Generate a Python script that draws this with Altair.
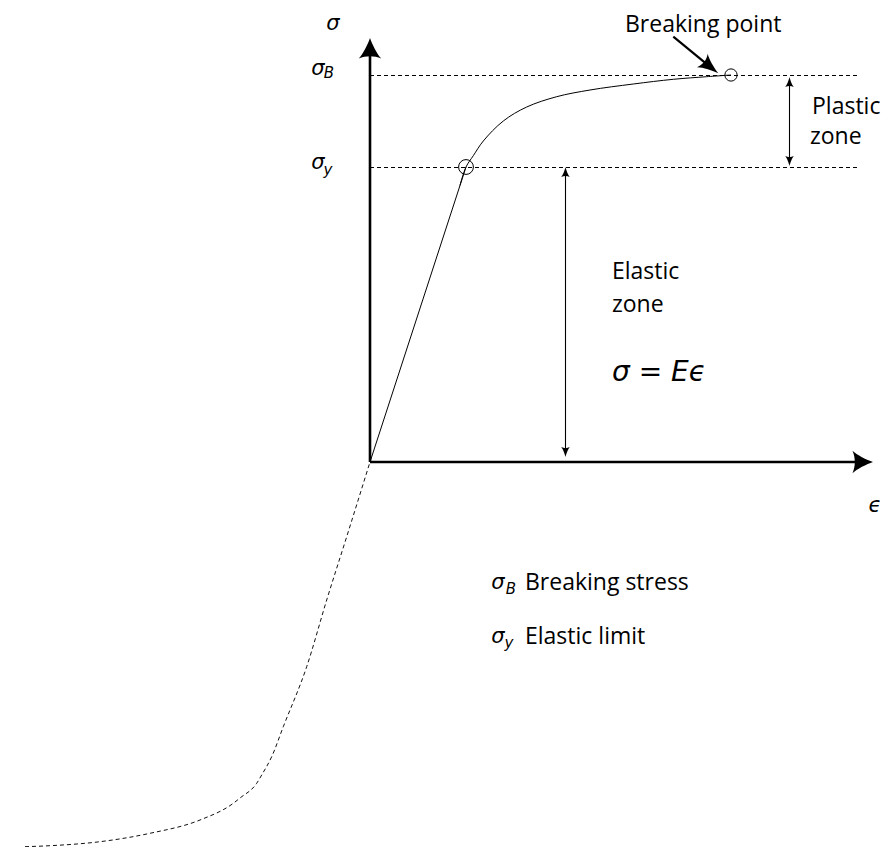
import altair as alt
import pandas as pd

# ---- data (strain eps, stress sigma, arbitrary units) ----
elastic_eps = [0.0, 0.96]
elastic_sigma = [0.0, 2.95]

plastic_eps = [0.90, 0.96, 1.033, 1.133, 1.333, 1.567, 1.867, 2.20, 2.633, 3.033, 3.367, 3.61]
plastic_sigma = [2.766, 2.95, 3.063, 3.21, 3.41, 3.55, 3.653, 3.72, 3.78, 3.827, 3.853, 3.87]

ext_eps = [0.0, -0.233, -0.433, -0.633, -0.867, -0.983, -1.083, -1.133, -1.30, -1.367, -1.70, -2.20, -2.70, -3.20, -3.45]
ext_sigma = [0.0, -0.747, -1.38, -2.047, -2.647, -2.947, -3.13, -3.213, -3.36, -3.413, -3.58, -3.713, -3.797, -3.837, -3.847]

sigma_B = 3.87
sigma_y = 2.95
eps_y = 0.96
eps_B = 3.61

guide_sigma = [sigma_B - 0.005, sigma_y - 0.005]
guide_end = [4.87, 4.90]

x_axis_end = 5.03
y_axis_end = 4.24

elastic_arrow_eps = 1.955
plastic_arrow_eps = 4.195

break_arrow_tail = (3.033, 4.253)
break_arrow_tip = (3.483, 3.887)

label_texts = ["Breaking point", "Plastic", "zone", "Elastic", "zone", "Breaking stress", "Elastic limit"]
label_eps = [2.55, 4.42, 4.40, 2.42, 2.42, 1.55, 1.55]
label_sigma = [4.375, 3.55, 3.25, 1.90, 1.57, -1.21, -1.75]

math_texts = ["σ", "σ", "σ", "ϵ", "σ", "σ"]
math_eps = [-0.37, -0.52, -0.52, 5.05, 1.28, 1.28]
math_sigma = [4.38, 3.93, 2.99, -0.44, -1.21, -1.75]

sub_texts = ["B", "y", "B", "y"]
sub_eps = [-0.41, -0.42, 1.41, 1.39]
sub_sigma = [3.89, 2.92, -1.27, -1.81]

formula_text = ["σ = Eϵ"]
formula_eps = [2.42]
formula_sigma = [0.89]

# ---- scales ----
xs = alt.Scale(domain=[-3.62, 5.12], nice=False, zero=False)
ys = alt.Scale(domain=[-3.85, 4.54], nice=False, zero=False)
X = alt.X("eps:Q", scale=xs, axis=None)
Y = alt.Y("sigma:Q", scale=ys, axis=None)

ARROW = "M0,0 C0.2,0.6 0.7,1.6 1.1,2 C0.4,1.7 -0.4,1.7 -1.1,2 C-0.7,1.6 -0.2,0.6 0,0 Z"
SMALL = "M0,0 C0.15,0.6 0.5,1.6 0.85,2 C0.3,1.7 -0.3,1.7 -0.85,2 C-0.5,1.6 -0.15,0.6 0,0 Z"

elastic = alt.Chart(pd.DataFrame({"eps": elastic_eps, "sigma": elastic_sigma})).mark_line(
    color="black", strokeWidth=1).encode(x=X, y=Y)
plastic = alt.Chart(pd.DataFrame({"eps": plastic_eps, "sigma": plastic_sigma})).mark_line(
    color="black", strokeWidth=1, interpolate="catmull-rom").encode(x=X, y=Y)
ext = alt.Chart(pd.DataFrame({"eps": ext_eps, "sigma": ext_sigma})).mark_line(
    color="#111111", strokeWidth=1, strokeDash=[4, 3], interpolate="monotone", clip=False).encode(x=X, y=Y)

guides = alt.Chart(pd.DataFrame({"eps": [0.0, 0.0], "eps2": guide_end, "sigma": guide_sigma})).mark_rule(
    color="black", strokeWidth=1, strokeDash=[4, 3]).encode(x=X, x2="eps2:Q", y=Y)

axes_df = pd.DataFrame({
    "eps": [0.0, 0.0], "eps2": [x_axis_end - 0.12, 0.0],
    "sigma": [0.0, 0.0], "sigma2": [0.0, y_axis_end - 0.12]})
axes = alt.Chart(axes_df).mark_rule(color="black", strokeWidth=2.6).encode(
    x=X, x2="eps2:Q", y=Y, y2="sigma2:Q")

heads_df = pd.DataFrame({"eps": [x_axis_end, 0.0], "sigma": [0.0, y_axis_end], "ang": [90, 0]})
heads = alt.Chart(heads_df).mark_point(shape=ARROW, filled=True, color="black", size=420, opacity=1).encode(
    x=X, y=Y, angle=alt.Angle("ang:Q", scale=None))

zone_df = pd.DataFrame({
    "eps": [elastic_arrow_eps, plastic_arrow_eps],
    "sigma": [sigma_y - 0.04, sigma_B - 0.07],
    "sigma2": [0.09, sigma_y + 0.05]})
zones = alt.Chart(zone_df).mark_rule(color="black", strokeWidth=1.1).encode(x=X, y=Y, y2="sigma2:Q")

zone_heads_df = pd.DataFrame({
    "eps": [elastic_arrow_eps, elastic_arrow_eps, plastic_arrow_eps, plastic_arrow_eps],
    "sigma": [sigma_y, 0.05, sigma_B - 0.02, sigma_y + 0.01],
    "ang": [0, 180, 0, 180]})
zone_heads = alt.Chart(zone_heads_df).mark_point(shape=SMALL, filled=True, color="black", size=100, opacity=1).encode(
    x=X, y=Y, angle=alt.Angle("ang:Q", scale=None))

brk_df = pd.DataFrame({"eps": [break_arrow_tail[0]], "sigma": [break_arrow_tail[1]],
                       "eps2": [break_arrow_tip[0] - 0.1], "sigma2": [break_arrow_tip[1] + 0.08]})
brk_line = alt.Chart(brk_df).mark_rule(color="black", strokeWidth=2.2).encode(
    x=X, y=Y, x2="eps2:Q", y2="sigma2:Q")
brk_head = alt.Chart(pd.DataFrame({"eps": [break_arrow_tip[0]], "sigma": [break_arrow_tip[1]], "ang": [128.7]})).mark_point(
    shape=SMALL, filled=True, color="black", size=420, opacity=1).encode(
    x=X, y=Y, angle=alt.Angle("ang:Q", scale=None))

circles = alt.Chart(pd.DataFrame({"eps": [eps_y, eps_B], "sigma": [sigma_y, sigma_B], "sz": [220, 150]})).mark_point(
    shape="circle", filled=False, color="black", strokeWidth=1, opacity=1).encode(
    x=X, y=Y, size=alt.Size("sz:Q", scale=None))

labels = alt.Chart(pd.DataFrame({"eps": label_eps, "sigma": label_sigma, "t": label_texts})).mark_text(
    font="Open Sans", fontSize=23, align="left", baseline="middle", color="black").encode(
    x=X, y=Y, text="t:N")

maths = alt.Chart(pd.DataFrame({"eps": math_eps, "sigma": math_sigma, "t": math_texts})).mark_text(
    font="DejaVu Sans", fontStyle="oblique", fontSize=21, align="center", baseline="middle", color="black").encode(
    x=X, y=Y, text="t:N")

subs = alt.Chart(pd.DataFrame({"eps": sub_eps, "sigma": sub_sigma, "t": sub_texts})).mark_text(
    font="DejaVu Sans", fontStyle="oblique", fontSize=15, align="center", baseline="middle", color="black").encode(
    x=X, y=Y, text="t:N")

formula = alt.Chart(pd.DataFrame({"eps": formula_eps, "sigma": formula_sigma, "t": formula_text})).mark_text(
    font="DejaVu Sans", fontStyle="oblique", fontSize=28, align="left", baseline="middle", color="black").encode(
    x=X, y=Y, text="t:N")

chart = alt.layer(
    guides, ext, elastic, plastic, axes, heads, zones, zone_heads, brk_line, brk_head, circles,
    labels, maths, subs, formula
).properties(width=874, height=839, padding=0, autosize="none").configure_view(stroke=None)

chart.save("out.html", embed_options={"renderer": "svg", "actions": False})
